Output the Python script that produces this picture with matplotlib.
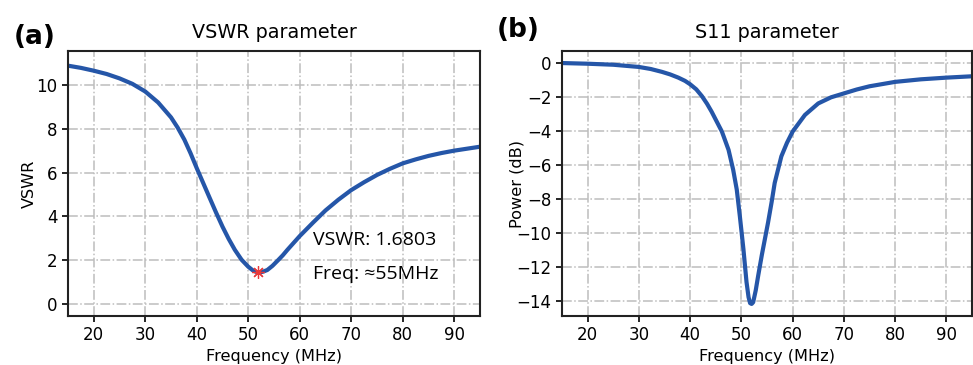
import matplotlib.pyplot as plt

# VSWR curve
freq_v = [15, 17.5, 20, 22.5, 25, 27.5, 30, 32.5, 35, 36.3, 37.6, 38.8, 40, 41.2,
          42.4, 43.7, 45, 46.2, 47.4, 48.7, 50, 50.9, 51.7, 52.7, 53.7, 54.7, 55.8,
          56.7, 57.6, 60, 62.6, 65, 67.5, 70, 72.5, 75, 77.5, 80, 82.5, 85, 87.5,
          90, 92.5, 95]
vswr = [10.88, 10.78, 10.65, 10.5, 10.3, 10.05, 9.7, 9.2, 8.52, 8.05, 7.5, 6.88,
        6.2, 5.55, 4.9, 4.2, 3.53, 2.97, 2.47, 2.02, 1.7, 1.53, 1.45, 1.46, 1.55,
        1.74, 2.0, 2.22, 2.47, 3.1, 3.72, 4.27, 4.76, 5.2, 5.56, 5.89, 6.17, 6.42,
        6.6, 6.76, 6.89, 7.0, 7.09, 7.18]

# S11 curve
freq_s = [15, 20, 25, 30, 32.3, 34.5, 36.1, 37.7, 39, 40, 41.2, 42.3, 43.3, 44.2,
          46.2, 47.5, 48.4, 49.1, 49.7, 50.4, 51.0, 51.4, 51.7, 52.0, 52.3, 52.8,
          53.3, 54.0, 55.2, 55.9, 56.5, 57.8, 58.9, 60, 62.4, 65, 67.5, 70, 72.5,
          75, 80, 85, 90, 95]
s11 = [0.0, -0.04, -0.1, -0.23, -0.35, -0.52, -0.67, -0.86, -1.05, -1.25, -1.55,
       -1.95, -2.4, -2.87, -4.04, -5.12, -6.29, -7.46, -9.02, -10.97, -12.9,
       -13.8, -14.15, -14.2, -14.1, -13.4, -12.5, -11.3, -9.41, -8.2, -7.07, -5.5,
       -4.7, -4.04, -3.06, -2.38, -2.02, -1.79, -1.56, -1.37, -1.11, -0.96, -0.86,
       -0.78]

marker_f = 51.8
marker_v = 1.45

line_color = '#2556a8'


def style_axes(ax):
    ax.set_xlim(15, 95)
    ax.set_xticks([20, 30, 40, 50, 60, 70, 80, 90])
    ax.grid(True, linestyle='-.', color='#bdbdbd', linewidth=1.1)
    ax.set_axisbelow(True)
    ax.tick_params(labelsize=12, length=4, width=1.2)
    for s in ax.spines.values():
        s.set_linewidth(1.5)
        s.set_color('#222222')
    ax.set_xlabel('Frequency (MHz)', fontsize=11.6, labelpad=3)


fig = plt.figure(figsize=(9.73, 3.65), dpi=100)

ax1 = fig.add_axes([68/973, 49/365, 412/973, 265/365])
ax1.plot(freq_v, vswr, color=line_color, lw=3)
ax1.plot(marker_f, marker_v, marker=(8, 2, 0), color='#e8383a', ms=9,
         markeredgewidth=0.9)
ax1.set_ylim(-0.55, 11.55)
ax1.set_yticks([0, 2, 4, 6, 8, 10])
ax1.set_ylabel('VSWR', fontsize=11.6, labelpad=0)
ax1.set_title('VSWR parameter', fontsize=13.8, pad=9)
style_axes(ax1)
ax1.text(62.6, 2.92, 'VSWR: 1.6803', fontsize=14, family='Open Sans', va='center')
ax1.text(62.6, 1.37, 'Freq: \u224855MHz', fontsize=14, family='Open Sans', va='center')

ax2 = fig.add_axes([562/973, 49/365, 410/973, 265/365])
ax2.plot(freq_s, s11, color=line_color, lw=3)
ax2.set_yticks([0, -2, -4, -6, -8, -10, -12, -14])
ax2.set_ylabel('Power (dB)', fontsize=11.6, labelpad=-6)
ax2.set_title('S11 parameter', fontsize=13.8, pad=9)
style_axes(ax2)

fig.text(14/973, 1 - 37/365, '(a)', fontsize=19, fontweight='bold', va='center')
fig.text(497/973, 1 - 30/365, '(b)', fontsize=19, fontweight='bold', va='center')

fig.savefig('out.png', dpi=100)
